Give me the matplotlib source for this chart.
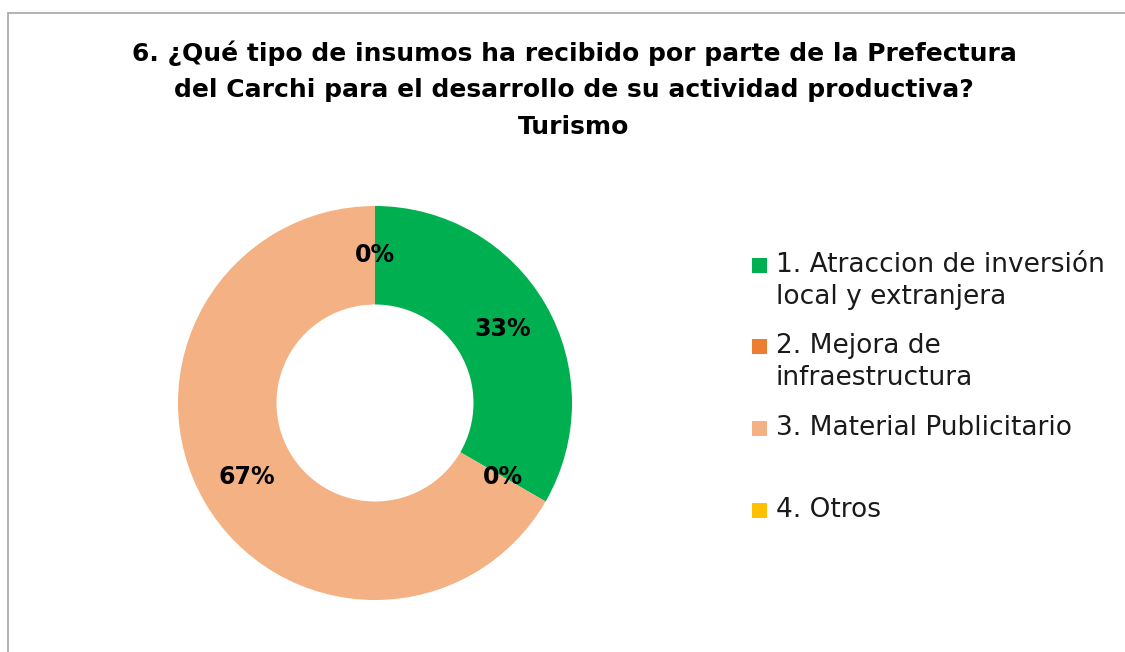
import matplotlib
matplotlib.use("Agg")
import matplotlib.pyplot as plt
from matplotlib.patches import Rectangle

# Datos
categorias = ["1. Atraccion de inversión\nlocal y extranjera",
              "2. Mejora de\ninfraestructura",
              "3. Material Publicitario",
              "4. Otros"]
valores = [1, 0, 2, 0]
colores = ["#00B050", "#ED7D31", "#F4B183", "#FFC000"]

titulo = ("6. ¿Qué tipo de insumos ha recibido por parte de la Prefectura\n"
          "del Carchi para el desarrollo de su actividad productiva?\n"
          "Turismo")

plt.rcParams["font.family"] = ["DejaVu Sans"]

W, H = 1125, 652
fig = plt.figure(figsize=(W / 100, H / 100), dpi=100)

# borde gris del área del gráfico
fig.add_artist(Rectangle((8 / W, -0.1), 1.2, (H - 13) / H + 0.1,
                         transform=fig.transFigure, fill=False,
                         edgecolor="#A6A6A6", linewidth=1.2))

fig.text(574 / W, 1 - 40 / H, titulo, ha="center", va="top",
         fontsize=18, fontweight="bold", linespacing=1.68)

# dona
cx, cy, r = 375, 403, 197
ax = fig.add_axes([(cx - 200) / W, (H - cy - 200) / H, 400 / W, 400 / H])
wedges, textos, autotextos = ax.pie(
    valores, colors=colores, startangle=90, counterclock=False,
    radius=r / 200, autopct="%1.0f%%", pctdistance=0.75,
    wedgeprops=dict(width=r / 200 * 0.5, linewidth=0),
    textprops=dict(fontsize=17, fontweight="bold", color="black"))
ax.set_xlim(-1, 1)
ax.set_ylim(-1, 1)
ax.set_aspect("equal")
ax.axis("off")

# leyenda
y_pos = [252, 333, 415, 497]
for lab, col, y in zip(categorias, colores, y_pos):
    fig.add_artist(Rectangle((752 / W, 1 - (y + 21) / H), 15 / W, 15 / H,
                             transform=fig.transFigure, facecolor=col,
                             edgecolor="none"))
    fig.text(776 / W, 1 - y / H, lab, ha="left", va="top",
             fontsize=19, color="#1a1a1a", linespacing=1.3)

fig.savefig("out.png", dpi=100)
